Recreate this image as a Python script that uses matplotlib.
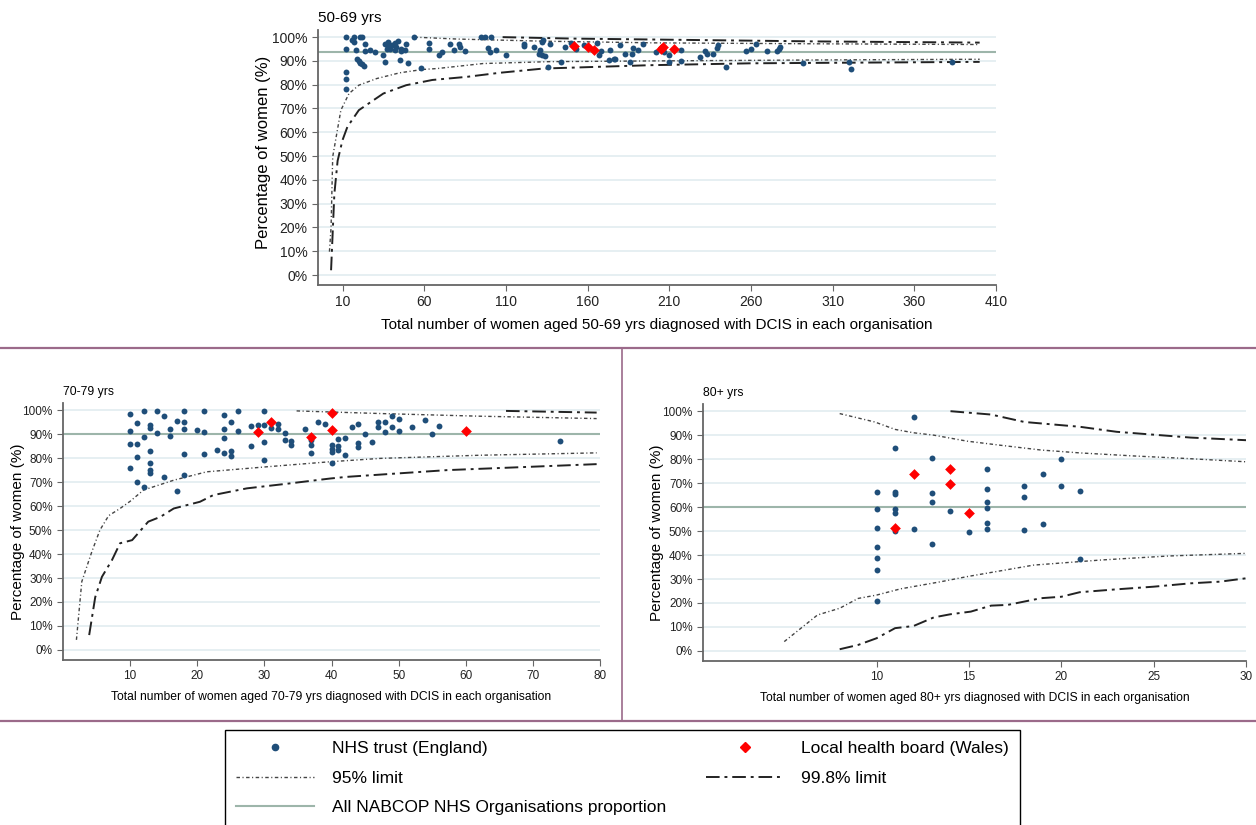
import matplotlib
matplotlib.use('Agg')
import matplotlib.pyplot as plt
from matplotlib.lines import Line2D

plt.rcParams['font.family'] = ['Liberation Sans', 'DejaVu Sans']

# ---- 50-69 yrs ----
eng50_n = [12, 12, 12, 12, 12, 16, 17, 17, 18, 19, 20, 21, 22, 23, 21, 22, 24, 24, 27, 30,
           35, 36, 36, 37, 38, 38, 39, 40, 42, 42, 43, 44, 45, 46, 46, 48, 49, 50,
           54, 58, 63, 63, 69, 71, 76, 78, 81, 82, 85, 95, 97, 101, 99, 100, 104, 110,
           121, 121, 127, 130, 131, 132, 132, 133, 134, 136, 137, 144, 146, 150, 153, 158,
           166, 167, 168, 173, 174, 176, 177, 180, 183, 186, 187, 188, 191, 194,
           202, 207, 210, 210, 217, 217, 229, 232, 233, 237, 239, 240, 245,
           257, 260, 263, 270, 276, 277, 278, 292, 320, 321, 383]
eng50_p = [85.4, 82.3, 78.3, 100, 95, 98.7, 100, 98, 94.8, 90.7, 90, 89, 88.5, 87.8, 100, 100, 97, 94, 94.8, 93.6,
           92.7, 89.5, 97, 95, 97.8, 95.9, 95, 96.6, 97.6, 94.5, 95.9, 98.3, 90.3, 94.1, 95, 94.5, 97.3, 89,
           100, 87.2, 97.6, 95, 92.7, 93.6, 97, 94.5, 97, 95.9, 94.1, 100, 100, 100, 95.5, 93.6, 94.5, 92.7,
           97, 96.3, 96, 93, 94.5, 97.8, 92.7, 98.7, 92.2, 87.5, 97.3, 89.6, 96, 97.6, 95, 96.6,
           97.6, 92.7, 94.1, 90.3, 94.5, 90.6, 90.7, 96.6, 93.1, 89.6, 93.1, 95.5, 94.5, 97,
           93.6, 93.6, 89.6, 92.7, 94.5, 90, 91.5, 94.1, 93.1, 93.1, 95.5, 96.9, 87.3,
           94.1, 95.2, 97, 94.1, 94.3, 95.2, 96, 89, 89.6, 86.4, 89.6]
wal50_n = [152, 160, 164, 205, 206, 213]
wal50_p = [96.3, 95.7, 94.5, 95.2, 96, 95.2]
mean50 = 93.8
lo95_50_n = [2, 3, 4, 6.5, 9, 14, 20, 31, 45, 59, 68, 96, 137, 200, 300, 400]
lo95_50 = [9.8, 20, 49.7, 59.5, 69.3, 76.3, 79.8, 82.6, 85, 86.4, 86.8, 88.9, 89.7, 90.0, 90.4, 90.7]
up95_50_n = [54, 80, 133, 200, 300, 400]
up95_50 = [100, 99.2, 98.3, 97.6, 97.2, 96.9]
lo998_50_n = [3, 5, 7, 10, 13, 20, 35, 49, 65, 86, 106, 133, 198, 260, 400]
lo998_50 = [2, 34, 48, 56.7, 62.3, 69.3, 76.3, 79.8, 82, 83.3, 85, 86.8, 88.2, 89, 89.6]
up998_50_n = [108, 150, 200, 300, 400]
up998_50 = [100, 99.4, 99, 98.2, 97.7]

# ---- 70-79 yrs ----
eng70_n = [10, 10, 10, 10, 11, 11, 11, 11, 12, 12, 12, 13, 13, 13, 13, 13, 13, 14, 14, 15, 15, 16, 16,
           17, 17, 18, 18, 18, 18, 18, 20, 21, 21, 21, 23, 24, 24, 24, 24, 25, 25, 25, 26, 26, 28, 28,
           29, 30, 30, 30, 30, 31, 32, 32, 33, 33, 34, 34, 36, 37, 37, 37, 38, 39, 40, 40, 40, 40,
           41, 41, 41, 42, 42, 43, 44, 44, 44, 45, 46, 47, 47, 48, 48, 49, 49, 50, 50, 52, 54, 55, 56, 74]
eng70_p = [98.6, 91.2, 86.1, 75.7, 94.7, 85.7, 80.5, 69.9, 99.6, 88.9, 67.8, 94, 92.4, 82.9, 78, 75, 73.6,
           99.6, 90.3, 97.6, 72.2, 92, 89.2, 95.5, 66.4, 99.6, 94.9, 92, 81.7, 72.9, 91.7, 99.6, 90.8, 81.7,
           83.3, 98.2, 92, 88.2, 82, 95.1, 82.9, 81, 99.6, 91.2, 93.6, 84.9, 93.8, 99.6, 93.8, 86.8, 79.2,
           92.5, 94.4, 92, 90.3, 87.5, 87.2, 85.4, 92, 87.5, 85.4, 82.2, 95.1, 94.2, 85.4, 84, 82.6, 77.8,
           87.8, 85, 83.3, 88.6, 81.3, 93, 94.4, 86.4, 84.7, 90, 86.8, 95.1, 93, 95.1, 90.7, 97.6, 93,
           96.3, 91.2, 93, 95.8, 90.1, 93.2, 87.2]
wal70_n = [29, 31, 37, 40, 40, 60]
wal70_p = [90.7, 95.1, 88.9, 98.9, 91.7, 91.2]
mean70 = 90
lo95_70_n = [2, 2.8, 4.3, 5.5, 6.8, 8.5, 10, 12, 16.5, 21.4, 30.4, 39.8, 47.3, 62, 79.5]
lo95_70 = [4.2, 28.5, 41, 50, 56, 59, 62, 66.7, 70.8, 74.3, 76.4, 78.5, 79.9, 81.2, 82.2]
up95_70_n = [34.8, 47.3, 62, 79.5]
up95_70 = [99.7, 98.6, 97.5, 96.5]
lo998_70_n = [3.9, 4.8, 5.8, 7.3, 8.5, 10.3, 12.7, 14.5, 16.5, 20.4, 22.4, 27.4, 33.3, 39.8, 42.3, 57.2, 79.5]
lo998_70 = [6.2, 22, 30.5, 37.5, 44.5, 45.8, 53.5, 55.5, 59, 61.8, 64.6, 67.4, 69.3, 71.5, 72.2, 75, 77.5]
up998_70_n = [66, 79.5]
up998_70 = [99.7, 99]

# ---- 80+ yrs ----
eng80_n = [10, 10, 10, 10, 10, 10, 10, 11, 11, 11, 11, 11, 11, 12, 12, 13, 13, 13, 13, 14, 15,
           16, 16, 16, 16, 16, 16, 18, 18, 18, 19, 19, 20, 20, 21, 21]
eng80_p = [66.1, 59, 51.4, 43.3, 38.8, 33.8, 20.8, 84.7, 66.1, 65.3, 59.2, 57.6, 50.1, 97.6, 50.8,
           80.3, 66, 62.1, 44.7, 58.2, 49.5, 75.8, 67.4, 62.1, 59.7, 53.2, 50.8, 68.8, 64, 50.4,
           74, 52.9, 79.9, 68.8, 66.8, 38.2]
wal80_n = [11, 12, 14, 14, 15]
wal80_p = [51.4, 73.6, 75.7, 69.6, 57.4]
mean80 = 60
lo95_80_n = [5, 6.8, 8, 9, 10, 11.3, 13.5, 14.9, 18.5, 22.1, 25.8, 30]
lo95_80 = [3.9, 15, 17.8, 21.9, 23.3, 25.9, 28.9, 31, 35.8, 37.9, 39.6, 40.7]
up95_80_n = [8, 9.9, 11, 12, 13.1, 14.9, 16.7, 18.9, 21, 24, 26.7, 30]
up95_80 = [99, 95.5, 92.4, 91, 90, 87.5, 85.8, 83.8, 82.6, 81.3, 80.3, 78.9]
lo998_80_n = [8, 9, 10, 11, 12, 13.1, 14, 15.1, 16.2, 17.1, 18.9, 20, 21, 23, 25, 27, 28.6, 30]
lo998_80 = [0.7, 2.5, 5.3, 9.5, 10.4, 14, 15.3, 16.4, 18.9, 19.2, 22, 22.6, 24.5, 25.7, 26.8, 28.2, 28.9, 30.3]
up998_80_n = [14, 16.2, 18, 21, 23, 27, 30]
up998_80 = [100, 98.6, 95.5, 93.5, 91.4, 89, 87.9]

BLUE = '#1f4e79'
MEAN_C = '#9db5aa'
DASH95 = (0, (2.5, 1.8, 0.8, 1.8))
DASH998 = (0, (7, 2.5, 1.5, 2.5))


def draw_panel(ax, title, xlabel, eng, wal, mean, lim95, lim998, xticks, xlim, small):
    fs_tick = 8.5 if small else 10
    fs_lab = 8.7 if small else 11
    ax.set_ylim(-4.2, 103)
    ax.set_xlim(*xlim)
    ax.set_yticks(range(0, 101, 10))
    ax.set_yticklabels(['%d%%' % v for v in range(0, 101, 10)])
    ax.set_xticks(xticks)
    ax.grid(axis='y', color='#e4eef1', lw=1.3)
    ax.set_axisbelow(True)
    ax.axhline(mean, color=MEAN_C, lw=1.5, zorder=2)
    for xs, ys in lim95:
        ax.plot(xs, ys, color='#444444', lw=1.0, ls=DASH95, zorder=3)
    for xs, ys in lim998:
        ax.plot(xs, ys, color='#222222', lw=1.4, ls=DASH998, zorder=3)
    ax.scatter(eng[0], eng[1], s=18, color=BLUE, zorder=4, linewidths=0)
    ax.scatter(wal[0], wal[1], s=30, color='red', marker='D', zorder=5, linewidths=0)
    for s in ('top', 'right'):
        ax.spines[s].set_visible(False)
    for s in ('left', 'bottom'):
        ax.spines[s].set_color('#666666')
        ax.spines[s].set_linewidth(1.3)
    ax.tick_params(colors='#666666', labelcolor='#222222', labelsize=fs_tick, length=4)
    ax.set_ylabel('Percentage of women (%)', fontsize=11 if small else 12)
    ax.set_xlabel(xlabel, fontsize=fs_lab, labelpad=6)
    ax.text(0.0, 1.02, title, transform=ax.transAxes, fontsize=fs_lab, ha='left', va='bottom')


fig = plt.figure(figsize=(12.56, 8.25), dpi=100)

ax1 = fig.add_axes([318 / 1256, 1 - 285 / 825, 678 / 1256, 255 / 825])
draw_panel(ax1, '50-69 yrs',
           'Total number of women aged 50-69 yrs diagnosed with DCIS in each organisation',
           (eng50_n, eng50_p), (wal50_n, wal50_p), mean50,
           [(lo95_50_n, lo95_50), (up95_50_n, up95_50)],
           [(lo998_50_n, lo998_50), (up998_50_n, up998_50)],
           range(10, 411, 50), (-5, 410), False)
ax1.yaxis.set_label_coords(-0.069, 0.52)

ax2 = fig.add_axes([63 / 1256, 1 - 660 / 825, 537 / 1256, 257 / 825])
draw_panel(ax2, '70-79 yrs',
           'Total number of women aged 70-79 yrs diagnosed with DCIS in each organisation',
           (eng70_n, eng70_p), (wal70_n, wal70_p), mean70,
           [(lo95_70_n, lo95_70), (up95_70_n, up95_70)],
           [(lo998_70_n, lo998_70), (up998_70_n, up998_70)],
           range(10, 81, 10), (0, 80), True)
ax2.yaxis.set_label_coords(-0.071, 0.5)

ax3 = fig.add_axes([703 / 1256, 1 - 661 / 825, 543 / 1256, 257 / 825])
draw_panel(ax3, '80+ yrs',
           'Total number of women aged 80+ yrs diagnosed with DCIS in each organisation',
           (eng80_n, eng80_p), (wal80_n, wal80_p), mean80,
           [(lo95_80_n, lo95_80), (up95_80_n, up95_80)],
           [(lo998_80_n, lo998_80), (up998_80_n, up998_80)],
           range(10, 31, 5), (0.6, 30), True)
ax3.yaxis.set_label_coords(-0.072, 0.5)

# panel separators
sep = '#9b6a8a'
fig.add_artist(Line2D([0, 1], [1 - 348 / 825] * 2, color=sep, lw=1.6))
fig.add_artist(Line2D([0, 1], [1 - 721 / 825] * 2, color=sep, lw=1.6))
fig.add_artist(Line2D([622 / 1256] * 2, [1 - 348 / 825, 1 - 721 / 825], color=sep, lw=1.2))

handles = [
    Line2D([], [], ls='none', marker='o', color=BLUE, markersize=4.5),
    Line2D([], [], color='#444444', lw=1.0, ls=DASH95),
    Line2D([], [], color=MEAN_C, lw=1.5),
    Line2D([], [], ls='none', marker='D', color='red', markersize=5),
    Line2D([], [], color='#222222', lw=1.4, ls=DASH998),
]
labels = ['NHS trust (England)', '95% limit', 'All NABCOP NHS Organisations proportion',
          'Local health board (Wales)', '99.8% limit']
leg = fig.legend(handles, labels, ncol=2, loc='upper left',
                 bbox_to_anchor=(225 / 1256, 1 - 730 / 825), fontsize=12.5,
                 frameon=True, fancybox=False, edgecolor='black', framealpha=1,
                 handlelength=4.5, handletextpad=1.0, columnspacing=2.3,
                 labelspacing=0.82, borderpad=0.65, borderaxespad=0)
leg.get_frame().set_linewidth(1.0)

fig.savefig('out.png', dpi=100)
